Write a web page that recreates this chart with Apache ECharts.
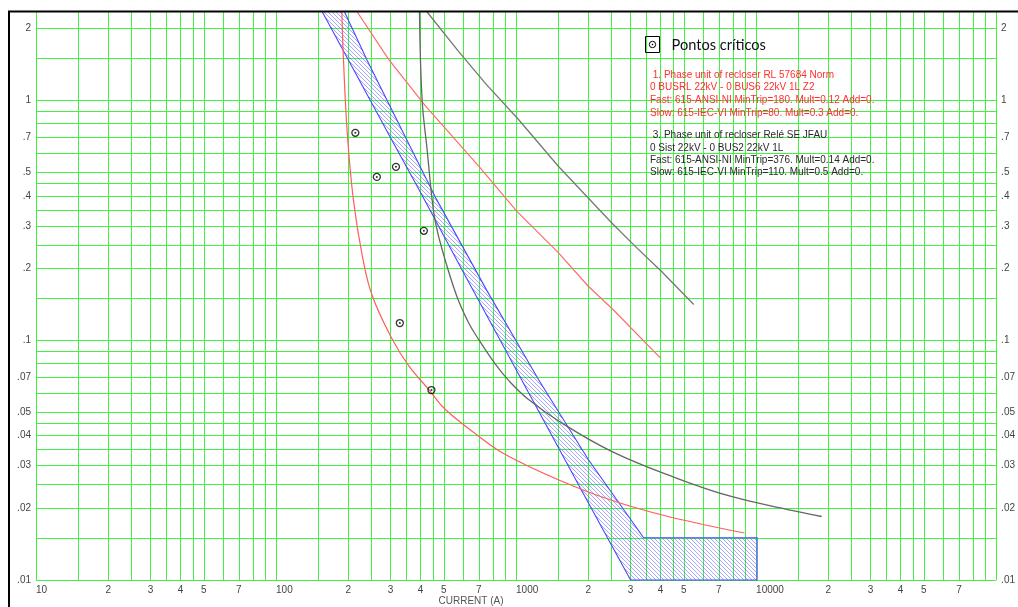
<!DOCTYPE html>
<html>
<head>
<meta charset="utf-8">
<script src="https://cdn.jsdelivr.net/npm/echarts@6/dist/echarts.min.js"></script>
<style>
  html, body { margin: 0; padding: 0; background: #fff; }
  #chart { width: 1018px; height: 607px; }
</style>
</head>
<body>
<div id="chart"></div>
<script>
// Grid lines and labelled ticks inside each decade
const gridMultipliers = [1, 1.5, 2, 2.5, 3, 3.5, 4, 4.5, 5, 6, 7, 8, 9];
const labelMultipliers = [1, 2, 3, 4, 5, 7];
const currentDecades = [10, 100, 1000, 10000];
const timeDecades = [0.01, 0.1, 1];
const currentRange = [10, 100000];
const timeRange = [0.01, 2.34];

// Critical points [current (A), time (s)]
const criticalPoints = [[214, 0.733], [263, 0.48], [316, 0.529], [413, 0.286], [328, 0.118], [444, 0.062]];

// 1. Recloser RL 57684 – fast (ANSI-NI) and slow (IEC-VI) curves
const recloser1Fast = [[188, 2.34], [191, 1.48], [198, 0.735], [210, 0.386], [229, 0.224], [252, 0.153],
  [305, 0.101], [358, 0.078], [433, 0.0623], [508, 0.0514], [699, 0.0398], [902, 0.0334],
  [1500, 0.0262], [2500, 0.0215], [4300, 0.0184], [8950, 0.0157]];
const recloser1Slow = [[218, 2.34], [295, 1.48], [420, 0.947], [699, 0.532], [1008, 0.345],
  [1500, 0.232], [2000, 0.168], [2540, 0.134], [3990, 0.0844]];

// 3. Recloser Relé SE JFAU – fast (ANSI-NI) and slow (IEC-VI) curves
const recloser3Fast = [[396, 2.34], [406, 1.01], [426, 0.625], [447, 0.386], [462, 0.309], [492, 0.239],
  [566, 0.153], [635, 0.118], [699, 0.1007], [820, 0.0795], [931, 0.0680], [1127, 0.0566],
  [1549, 0.0452], [2500, 0.0344], [4440, 0.0271], [7880, 0.0223], [14900, 0.0193], [18760, 0.0184]];
const recloser3Slow = [[426, 2.34], [577, 1.6], [750, 1.17], [1024, 0.833], [1500, 0.532],
  [2500, 0.309], [3130, 0.247], [4030, 0.194], [5500, 0.141]];

// Hatched band: left edge, right edge (top to bottom) and the flat bottom block
const bandLeft = [[156, 2.34], [300, 0.70], [394, 0.425], [600, 0.194], [1127, 0.0605], [2000, 0.021], [3000, 0.01]];
const bandRight = [[193, 2.34], [239, 1.48], [467, 0.386], [751, 0.163], [1240, 0.0686], [2000, 0.0318], [3400, 0.015]];
const bandBlock = [[10100, 0.01], [10100, 0.015]];

const legendText = 'Pontos críticos';
const recloser1Text = [
  ' 1. Phase unit of recloser RL 57684 Norm',
  '0 BUSRL 22kV - 0 BUS6 22kV 1L Z2',
  'Fast: 615-ANSI-NI MinTrip=180. Mult=0.12 Add=0.',
  'Slow: 615-IEC-VI MinTrip=80. Mult=0.3 Add=0.'
];
const recloser3Text = [
  ' 3. Phase unit of recloser Relé SE JFAU',
  '0 Sist 22kV - 0 BUS2 22kV 1L',
  'Fast: 615-ANSI-NI MinTrip=376. Mult=0.14 Add=0.',
  'Slow: 615-IEC-VI MinTrip=110. Mult=0.5 Add=0.'
];
const axisTitle = 'CURRENT (A)';

function clean(v) { return parseFloat(v.toPrecision(6)); }
function expand(decades, mults, hi) {
  const out = [];
  decades.forEach(d => mults.forEach(m => { const v = clean(d * m); if (v <= hi) out.push(v); }));
  return out;
}
const xGrid = expand(currentDecades, gridMultipliers, currentRange[1]).concat([currentRange[1]]);
const yGrid = expand(timeDecades, gridMultipliers, timeRange[1]);
const xMinorLabels = expand(currentDecades, labelMultipliers.slice(1), currentRange[1]);
const yLabels = expand(timeDecades, labelMultipliers, timeRange[1]);

function mantissa(v) { const e = Math.floor(Math.log10(v) + 1e-9); return String(Math.round(v / Math.pow(10, e))); }
function timeLabel(v) { return v < 1 ? String(v).replace(/^0/, '') : String(v); }

// Diagonal hatch used to fill the band
const hatch = document.createElement('canvas');
hatch.width = 4; hatch.height = 4;
(function () {
  const c = hatch.getContext('2d');
  c.strokeStyle = 'rgba(80,80,255,0.5)';
  c.lineWidth = 1;
  c.beginPath();
  c.moveTo(-1, -1); c.lineTo(5, 5);
  c.moveTo(3, -1); c.lineTo(5, 1);
  c.moveTo(-1, 3); c.lineTo(1, 5);
  c.stroke();
})();

const bandOutline = bandLeft.concat(bandBlock, bandRight.slice().reverse());

const labelFont = { fontFamily: 'Liberation Sans', fontSize: 10, color: '#444' };
const gridColor = '#45f045';

const chart = echarts.init(document.getElementById('chart'), null, { renderer: 'canvas' });
chart.setOption({
  animation: false,
  backgroundColor: '#fff',
  grid: { left: 36, right: 19, top: 12, bottom: 27 },
  xAxis: [
    {
      type: 'log', logBase: 10, min: currentRange[0], max: currentRange[1],
      axisLine: { show: false },
      axisTick: { show: false, customValues: xGrid },
      splitLine: { show: true, lineStyle: { color: gridColor, width: 1 } },
      axisLabel: Object.assign({ customValues: currentDecades, align: 'left', margin: 5,
        formatter: v => String(v) }, labelFont)
    },
    {
      type: 'log', logBase: 10, min: currentRange[0], max: currentRange[1], position: 'bottom',
      axisLine: { show: false }, axisTick: { show: false }, splitLine: { show: false },
      axisLabel: Object.assign({ customValues: xMinorLabels, align: 'center', margin: 5,
        formatter: v => mantissa(v) }, labelFont)
    }
  ],
  yAxis: [
    {
      type: 'log', logBase: 10, min: timeRange[0], max: timeRange[1], position: 'left',
      axisLine: { show: false },
      axisTick: { show: false, customValues: yGrid },
      splitLine: { show: true, lineStyle: { color: gridColor, width: 1 } },
      axisLabel: Object.assign({ customValues: yLabels, margin: 5, formatter: timeLabel }, labelFont)
    },
    {
      type: 'log', logBase: 10, min: timeRange[0], max: timeRange[1], position: 'right',
      axisLine: { show: false }, axisTick: { show: false }, splitLine: { show: false },
      axisLabel: Object.assign({ customValues: yLabels, margin: 5, formatter: timeLabel }, labelFont)
    }
  ],
  series: [
    {
      type: 'custom', name: 'band', xAxisIndex: 0, yAxisIndex: 0, z: 2,
      data: [[1000, 0.1]],
      renderItem: function (params, api) {
        const pts = bandOutline.map(p => api.coord(p));
        return {
          type: 'group',
          children: [
            { type: 'polygon', shape: { points: pts }, style: { fill: { image: hatch, repeat: 'repeat' }, stroke: null } },
            { type: 'polyline', shape: { points: pts }, style: { stroke: '#4848ff', lineWidth: 1.1, fill: null } }
          ]
        };
      }
    },
    { type: 'line', data: recloser1Fast, smooth: 0.4, showSymbol: false, z: 3,
      lineStyle: { color: '#ff5c5c', width: 1.2 } },
    { type: 'line', data: recloser1Slow, smooth: false, showSymbol: false, z: 3,
      lineStyle: { color: '#ff6a6a', width: 1.2 } },
    { type: 'line', data: recloser3Fast, smooth: 0.4, showSymbol: false, z: 3,
      lineStyle: { color: '#666', width: 1.3 } },
    { type: 'line', data: recloser3Slow, smooth: false, showSymbol: false, z: 3,
      lineStyle: { color: '#777', width: 1.3 } },
    { type: 'scatter', name: legendText, data: criticalPoints, symbol: 'circle', symbolSize: 7, z: 5,
      itemStyle: { color: 'rgba(255,255,255,0)', borderColor: '#000', borderWidth: 1.3 } },
    { type: 'scatter', data: criticalPoints, symbol: 'circle', symbolSize: 2, z: 5,
      itemStyle: { color: '#000' } }
  ],
  graphic: [
    { type: 'rect', z: 100, silent: true, shape: { x: 9, y: 11.5, width: 1300, height: 900 },
      style: { fill: null, stroke: '#000', lineWidth: 2 } },
    { type: 'rect', z: 100, shape: { x: 645.5, y: 36.5, width: 14, height: 16 },
      style: { fill: null, stroke: '#000', lineWidth: 1 } },
    { type: 'circle', z: 100, shape: { cx: 652.5, cy: 44.5, r: 3.2 },
      style: { fill: null, stroke: '#000', lineWidth: 1 } },
    { type: 'circle', z: 100, shape: { cx: 652.5, cy: 44.5, r: 0.8 }, style: { fill: '#000' } },
    { type: 'text', z: 100, x: 671.5, y: 45.5,
      style: { text: legendText, font: '14.6px Lato', fill: '#111', verticalAlign: 'middle' } },
    { type: 'text', z: 100, x: 650, y: 68.7,
      style: { text: recloser1Text.join('\n'), font: '10px "Liberation Sans"', fill: '#ff2e2e', lineHeight: 12.6 } },
    { type: 'text', z: 100, x: 650, y: 129.5,
      style: { text: recloser3Text.join('\n'), font: '10px "Liberation Sans"', fill: '#2a2a2a', lineHeight: 12.3 } },
    { type: 'text', z: 100, x: 471, y: 601,
      style: { text: axisTitle, font: '10px "Liberation Sans"', fill: '#555', align: 'center', verticalAlign: 'middle' } }
  ]
});
</script>
</body>
</html>
